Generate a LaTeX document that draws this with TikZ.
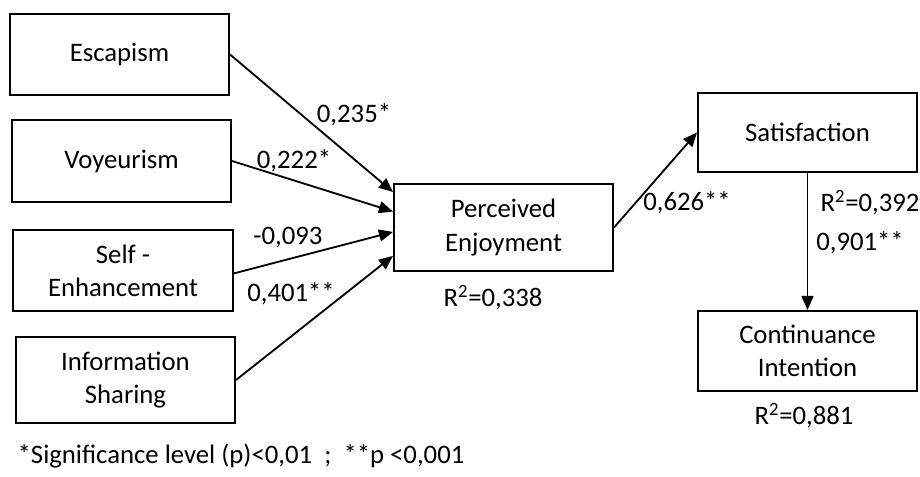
\documentclass[tikz,border=0pt]{standalone}
\usepackage{fontspec}
\setmainfont{Carlito}
\usetikzlibrary{arrows.meta,calc,positioning}
\tikzset{
  var/.style={draw, line width=1.4pt, minimum width=5.475cm, minimum height=2.03cm, align=center, inner sep=2pt},
  path/.style={line width=1.3pt, -{Triangle[length=10pt,width=8.5pt]}},
  coef/.style={inner sep=1pt}
}
\begin{document}
\fontsize{19}{23.5}\selectfont
\begin{tikzpicture}[x=0.025cm, y=-0.025cm]
\useasboundingbox (0,0) rectangle (920,477);
\node[var] (esc) at (119.5,54.5) {Escapism};
\node[var] (voy) at (121.5,161) {Voyeurism};
\node[var] (self) at (123,270.5) {Self -\\Enhancement};
\node[var, minimum height=2.15cm] (info) at (125.5,380) {Information\\Sharing};
\node[var, minimum height=2.17cm] (pe) at (503.5,227.5) {Perceived\\Enjoyment};
\node[var, minimum height=1.98cm] (sat) at (807.5,132.5) {Satisfaction};
\node[var, minimum height=2cm] (ci) at (807.5,351) {Continuance\\Intention};

\coordinate (pe1) at ($(pe.north west)!0.10!(pe.south west)$);
\coordinate (pe2) at ($(pe.north west)!0.32!(pe.south west)$);
\coordinate (pe3) at ($(pe.north west)!0.55!(pe.south west)$);
\coordinate (pe4) at ($(pe.north west)!0.82!(pe.south west)$);

\draw[path] (esc.east) -- (pe1);
\draw[path] (voy.east) -- (pe2);
\draw[path] ($(self.east)+(0,3)$) -- (pe3);
\draw[path] (info.east) -- (pe4);
\draw[path] (pe.east) -- (sat.west);
\draw[path] (sat.south) -- (ci.north);

\node[coef] (c1) at (354,115) {0,235*};
\node[coef] (c2) at (294,161) {0,222*};
\node[coef] (c3) at (288,238) {-0,093};
\node[coef] (c4) at (291,294) {0,401**};
\node[coef] (c5) at (687,203) {0,626**};
\node[coef] (c6) at (860,243) {0,901**};
\node[coef] (r1) at (493,298) {R\textsuperscript{2}=0,338};
\node[coef] (r2) at (870,203) {R\textsuperscript{2}=0,392};
\node[coef] (r3) at (804,416) {R\textsuperscript{2}=0,881};
\node[coef, anchor=west] (note) at (16,456) {*Significance level (p)<0,01~~;~~**p <0,001};
\end{tikzpicture}
\end{document}
